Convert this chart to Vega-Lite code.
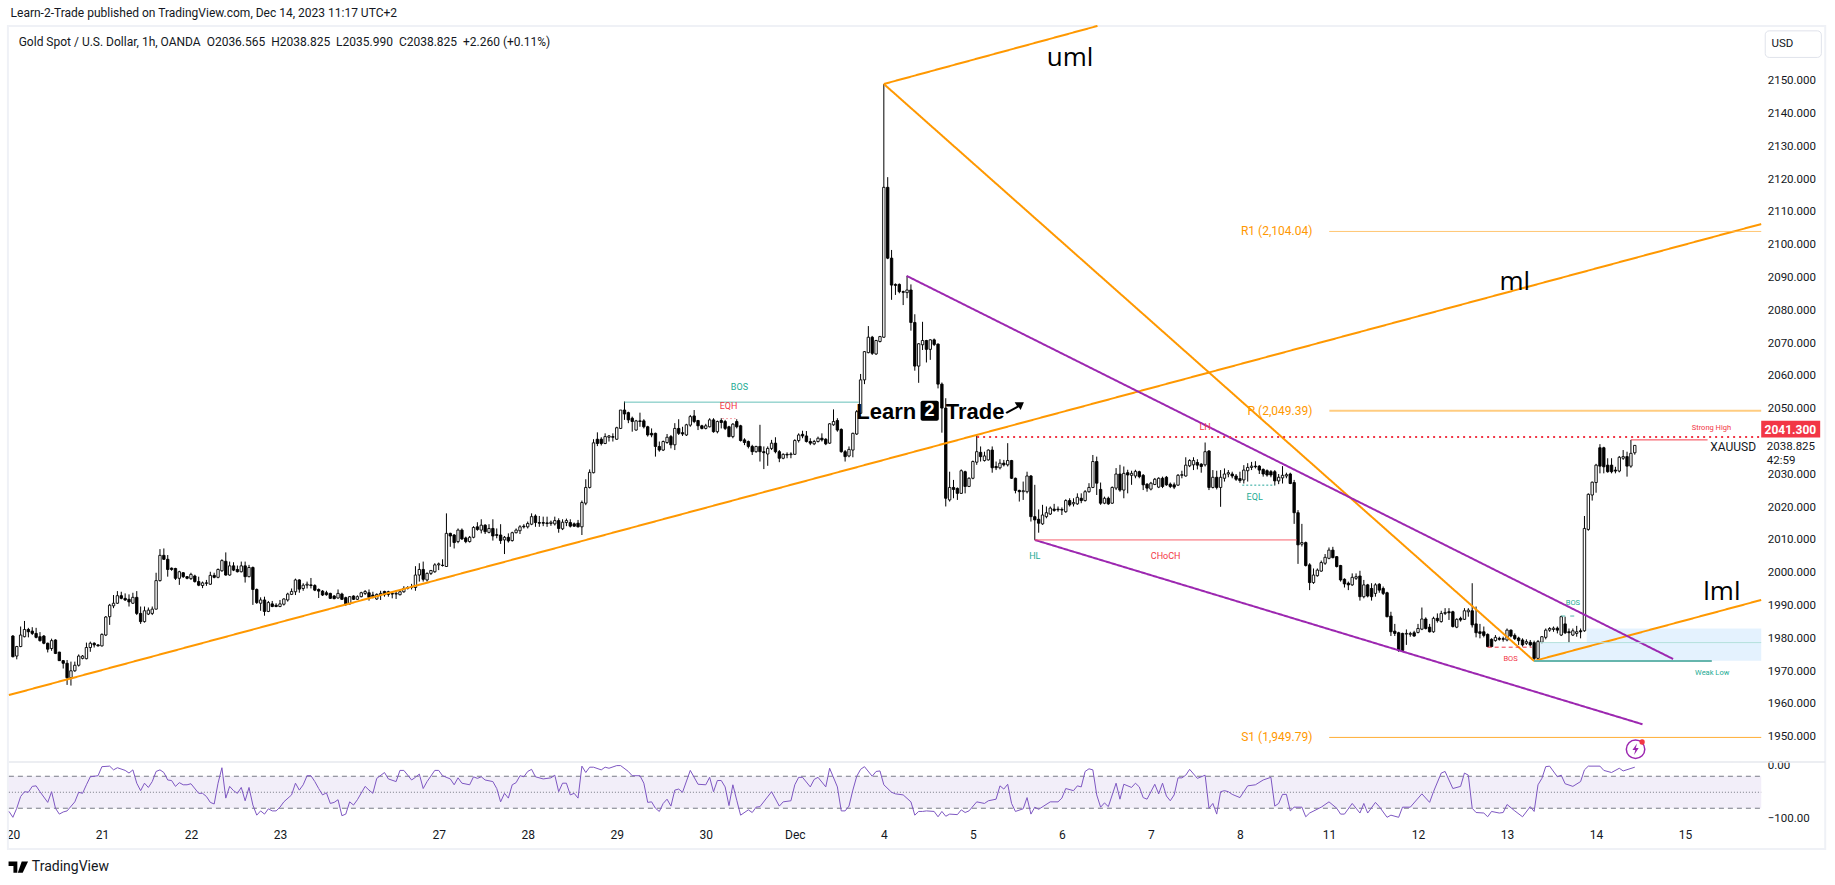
{
"$schema":"https://vega.github.io/schema/vega-lite/v6.json",
"description":"Gold spot 1h candles with pitchfork, wedge, pivots and a Williams %R pane.",
"width":1762.3,"height":799,
"autosize":{"type":"none"},
"padding":{"left":3.9,"top":26,"right":68.8,"bottom":60},
"background":"#ffffff",
"config":{"view":{"stroke":null},"font":"Roboto"},
"datasets":{
"candles":[
{"i":0,"o":1980.7,"h":1981,"l":1974.2,"c":1974.4},{"i":1,"o":1974.6,"h":1977.7,"l":1973.6,"c":1977.5},{"i":2,"o":1977.5,"h":1983.6,"l":1977.3,"c":1981},{"i":3,"o":1980.5,"h":1985.3,"l":1980.3,"c":1982.7},{"i":4,"o":1982.7,"h":1983.2,"l":1980.3,"c":1982},{"i":5,"o":1982.2,"h":1983.4,"l":1981,"c":1981.5},{"i":6,"o":1981.5,"h":1983.2,"l":1980,"c":1980.3},{"i":7,"o":1980.5,"h":1981.9,"l":1979,"c":1979.3},{"i":8,"o":1980.7,"h":1981,"l":1978.2,"c":1978.5},{"i":9,"o":1978.5,"h":1978.7,"l":1975.7,"c":1976.7},
{"i":10,"o":1976.9,"h":1979.9,"l":1976.2,"c":1979.3},{"i":11,"o":1979.5,"h":1979.7,"l":1975.2,"c":1975.4},{"i":12,"o":1975.8,"h":1975.9,"l":1973.1,"c":1973.2},{"i":13,"o":1973.2,"h":1973.4,"l":1970.8,"c":1972.4},{"i":14,"o":1972.4,"h":1973.4,"l":1965.8,"c":1968},{"i":15,"o":1968,"h":1972.9,"l":1965.6,"c":1970.1},{"i":16,"o":1970.1,"h":1972.9,"l":1969.8,"c":1971.8},{"i":17,"o":1971.8,"h":1975.1,"l":1971.4,"c":1974.6},{"i":18,"o":1973.9,"h":1974.9,"l":1973.6,"c":1974.6},{"i":19,"o":1973.8,"h":1978.7,"l":1973.6,"c":1977.2},
{"i":20,"o":1977.2,"h":1979,"l":1975.9,"c":1978.5},{"i":21,"o":1978.5,"h":1978.8,"l":1977.2,"c":1978},{"i":22,"o":1978,"h":1978.2,"l":1977.5,"c":1977.7},{"i":23,"o":1977.7,"h":1981.5,"l":1977.5,"c":1981.2},{"i":24,"o":1981,"h":1986.8,"l":1980.7,"c":1986.5},{"i":25,"o":1986.6,"h":1990.5,"l":1984.1,"c":1990.1},{"i":26,"o":1989.9,"h":1993.2,"l":1989.2,"c":1990.7},{"i":27,"o":1990.7,"h":1994.4,"l":1990.5,"c":1993},{"i":28,"o":1993,"h":1994.2,"l":1991.9,"c":1992.2},{"i":29,"o":1992.2,"h":1993.7,"l":1991.4,"c":1991.7},
{"i":30,"o":1991.9,"h":1993.4,"l":1989.7,"c":1991.1},{"i":31,"o":1990.7,"h":1993.9,"l":1990.5,"c":1992.5},{"i":32,"o":1992.5,"h":1994.4,"l":1987.1,"c":1987.6},{"i":33,"o":1987.6,"h":1989.7,"l":1984.4,"c":1985.1},{"i":34,"o":1985.1,"h":1989.7,"l":1984.8,"c":1988.4},{"i":35,"o":1987.4,"h":1989.4,"l":1987.1,"c":1988.6},{"i":36,"o":1987.6,"h":1989.7,"l":1987.1,"c":1988.9},{"i":37,"o":1988.9,"h":2000,"l":1988.8,"c":1997.6},{"i":38,"o":1997.6,"h":2007.2,"l":1997.3,"c":2005.3},{"i":39,"o":2005.3,"h":2007.4,"l":2003.9,"c":2004.1},
{"i":40,"o":2004.1,"h":2005.4,"l":1998.8,"c":2001},{"i":41,"o":2001.4,"h":2001.6,"l":2000.6,"c":2001},{"i":42,"o":2001.3,"h":2001.5,"l":1997.8,"c":1998.3},{"i":43,"o":1998.3,"h":2000.6,"l":1996.3,"c":2000.3},{"i":44,"o":2000,"h":2000.2,"l":1998.4,"c":1998.8},{"i":45,"o":1998.8,"h":1999,"l":1998,"c":1998.3},{"i":46,"o":1998.2,"h":2000,"l":1997.8,"c":1999.5},{"i":47,"o":1999,"h":1999.4,"l":1997,"c":1997.3},{"i":48,"o":1997.3,"h":1998.8,"l":1995.9,"c":1996.2},{"i":49,"o":1996.1,"h":1997.3,"l":1995.3,"c":1996.9},
{"i":50,"o":1996.9,"h":1997.8,"l":1996,"c":1996.8},{"i":51,"o":1996.5,"h":2000.3,"l":1996.3,"c":1999.2},{"i":52,"o":1999.2,"h":2000,"l":1998.3,"c":1998.6},{"i":53,"o":1998.6,"h":2001.3,"l":1998.3,"c":2001},{"i":54,"o":2000.6,"h":2004.1,"l":2000.3,"c":2003.7},{"i":55,"o":2003.5,"h":2006.2,"l":1999.1,"c":1999.3},{"i":56,"o":1999.3,"h":2003.4,"l":1999.1,"c":2002.1},{"i":57,"o":2002.1,"h":2003.2,"l":2000.5,"c":2000.8},{"i":58,"o":2001,"h":2002.2,"l":2000.1,"c":2000.3},{"i":59,"o":2000.3,"h":2003.4,"l":2000.1,"c":2002.1},
{"i":60,"o":2002.1,"h":2003.4,"l":1997,"c":1998.8},{"i":61,"o":1998.8,"h":2002.4,"l":1998.6,"c":2001.6},{"i":62,"o":2001.6,"h":2001.9,"l":1990.2,"c":1994.9},{"i":63,"o":1994.9,"h":1995.2,"l":1990.5,"c":1990.9},{"i":64,"o":1990.7,"h":1992.5,"l":1988.4,"c":1991.7},{"i":65,"o":1991.7,"h":1992.7,"l":1986.9,"c":1988.2},{"i":66,"o":1988.2,"h":1991.4,"l":1988,"c":1990.9},{"i":67,"o":1990.5,"h":1991.4,"l":1989.5,"c":1989.7},{"i":68,"o":1990.1,"h":1990.7,"l":1989.5,"c":1989.7},{"i":69,"o":1989.7,"h":1991.7,"l":1989.5,"c":1990.5},
{"i":70,"o":1990.4,"h":1992.2,"l":1990,"c":1992},{"i":71,"o":1991.7,"h":1993.9,"l":1991.2,"c":1993.5},{"i":72,"o":1993.4,"h":1995.2,"l":1993.2,"c":1994.3},{"i":73,"o":1994.2,"h":1998.2,"l":1993.2,"c":1997.8},{"i":74,"o":1997.8,"h":1998,"l":1993.9,"c":1995},{"i":75,"o":1995.2,"h":1996.8,"l":1994.5,"c":1996.2},{"i":76,"o":1996.2,"h":1997.3,"l":1995.2,"c":1996.5},{"i":77,"o":1996.3,"h":1998.4,"l":1995.2,"c":1996.1},{"i":78,"o":1996.1,"h":1996.5,"l":1994.4,"c":1994.7},{"i":79,"o":1994.9,"h":1995.2,"l":1992.3,"c":1994.4},
{"i":80,"o":1994.4,"h":1994.7,"l":1992.9,"c":1993.2},{"i":81,"o":1993.9,"h":1994.5,"l":1993,"c":1993.3},{"i":82,"o":1993.7,"h":1993.9,"l":1992,"c":1992.2},{"i":83,"o":1992.9,"h":1993.2,"l":1991.9,"c":1992.1},{"i":84,"o":1992.3,"h":1994.9,"l":1992.1,"c":1993.7},{"i":85,"o":1993.5,"h":1993.9,"l":1991.7,"c":1991.9},{"i":86,"o":1992.4,"h":1992.7,"l":1989.9,"c":1990.5},{"i":87,"o":1990.5,"h":1992.9,"l":1990.3,"c":1992.7},{"i":88,"o":1992.9,"h":1993.1,"l":1991.7,"c":1991.9},{"i":89,"o":1991.9,"h":1993.1,"l":1991.7,"c":1992.7},
{"i":90,"o":1992.7,"h":1994.2,"l":1992.5,"c":1993.9},{"i":91,"o":1993.7,"h":1994.7,"l":1993.2,"c":1994.3},{"i":92,"o":1993.9,"h":1994.9,"l":1991.5,"c":1992.5},{"i":93,"o":1993.2,"h":1994.2,"l":1992.2,"c":1992.7},{"i":94,"o":1992,"h":1993.7,"l":1991.7,"c":1993.4},{"i":95,"o":1993.2,"h":1994.5,"l":1991.7,"c":1993.7},{"i":96,"o":1994.3,"h":1994.5,"l":1992.7,"c":1993.3},{"i":97,"o":1994.2,"h":1994.5,"l":1992.7,"c":1993.4},{"i":98,"o":1993.7,"h":1994.2,"l":1992.2,"c":1993.5},{"i":99,"o":1993.5,"h":1994.7,"l":1992,"c":1993.7},
{"i":100,"o":1993.3,"h":1994.5,"l":1993.1,"c":1994.2},{"i":101,"o":1994.2,"h":1995.9,"l":1993.9,"c":1995.2},{"i":102,"o":1995.5,"h":1995.9,"l":1994.9,"c":1995.3},{"i":103,"o":1995.5,"h":1996.6,"l":1994.9,"c":1995.7},{"i":104,"o":1995.5,"h":2002,"l":1994.5,"c":1999.3},{"i":105,"o":1999.3,"h":2002.9,"l":1997.3,"c":2001},{"i":106,"o":2001,"h":2003.4,"l":1997.3,"c":1998},{"i":107,"o":1997.8,"h":2000.1,"l":1997.3,"c":1999.8},{"i":108,"o":1999.8,"h":2000.8,"l":1999.3,"c":2000.7},{"i":109,"o":2000.3,"h":2002.9,"l":2000,"c":2002.4},
{"i":110,"o":2002.4,"h":2003.1,"l":2000.8,"c":2002.7},{"i":111,"o":2002.3,"h":2004.1,"l":2001.9,"c":2002.2},{"i":112,"o":2001.9,"h":2018.1,"l":2001.8,"c":2012},{"i":113,"o":2012,"h":2012.2,"l":2007.9,"c":2011.2},{"i":114,"o":2011.5,"h":2011.8,"l":2007.4,"c":2009.2},{"i":115,"o":2009.5,"h":2013.5,"l":2009,"c":2013},{"i":116,"o":2013,"h":2013.5,"l":2010,"c":2010.3},{"i":117,"o":2010.6,"h":2011,"l":2009,"c":2009.5},{"i":118,"o":2009.5,"h":2011.2,"l":2009.2,"c":2010.8},{"i":119,"o":2010.8,"h":2014.2,"l":2010.5,"c":2013.8},
{"i":120,"o":2014,"h":2015.4,"l":2012.8,"c":2013.2},{"i":121,"o":2013,"h":2016.3,"l":2012,"c":2014.5},{"i":122,"o":2014.5,"h":2014.8,"l":2011.8,"c":2012.5},{"i":123,"o":2012.3,"h":2014.8,"l":2012,"c":2013.5},{"i":124,"o":2013.5,"h":2016.3,"l":2009.8,"c":2011.2},{"i":125,"o":2011.6,"h":2013.5,"l":2010.5,"c":2011.4},{"i":126,"o":2011.5,"h":2014.8,"l":2008.8,"c":2009.8},{"i":127,"o":2010,"h":2011.2,"l":2005.7,"c":2010.8},{"i":128,"o":2010.8,"h":2012,"l":2009.2,"c":2009.7},{"i":129,"o":2009.8,"h":2012.5,"l":2009.5,"c":2012.2},
{"i":130,"o":2012.2,"h":2013.5,"l":2012,"c":2013},{"i":131,"o":2012.8,"h":2014.5,"l":2011.8,"c":2014},{"i":132,"o":2014.2,"h":2014.8,"l":2013.5,"c":2014},{"i":133,"o":2014,"h":2015.6,"l":2013.5,"c":2015},{"i":134,"o":2014.8,"h":2018.1,"l":2014.5,"c":2017.1},{"i":135,"o":2017.3,"h":2017.8,"l":2014,"c":2015.3},{"i":136,"o":2015.3,"h":2017.3,"l":2014,"c":2015.1},{"i":137,"o":2015.3,"h":2017.1,"l":2014.2,"c":2015.1},{"i":138,"o":2015.2,"h":2017.1,"l":2014,"c":2015},{"i":139,"o":2015,"h":2015.9,"l":2014.3,"c":2015.4},
{"i":140,"o":2014.9,"h":2017.1,"l":2014.4,"c":2015.9},{"i":141,"o":2015.9,"h":2016.6,"l":2012.2,"c":2013.5},{"i":142,"o":2013.4,"h":2016.3,"l":2013,"c":2015.4},{"i":143,"o":2015.3,"h":2016.5,"l":2014.2,"c":2015.9},{"i":144,"o":2015.3,"h":2016.3,"l":2013.8,"c":2014.2},{"i":145,"o":2014.9,"h":2015.3,"l":2014,"c":2014.2},{"i":146,"o":2015.1,"h":2016.1,"l":2013.8,"c":2014},{"i":147,"o":2014,"h":2022,"l":2011.5,"c":2021.4},{"i":148,"o":2021.2,"h":2028.5,"l":2020.6,"c":2026},{"i":149,"o":2026,"h":2031.5,"l":2025.7,"c":2030.6},
{"i":150,"o":2030.5,"h":2040.7,"l":2030.3,"c":2039.6},{"i":151,"o":2040.7,"h":2042.8,"l":2038.6,"c":2039.4},{"i":152,"o":2040.7,"h":2041.3,"l":2038.8,"c":2039.4},{"i":153,"o":2039.4,"h":2042.5,"l":2039.2,"c":2041.5},{"i":154,"o":2041.3,"h":2042,"l":2040,"c":2041.7},{"i":155,"o":2041.5,"h":2042.5,"l":2040,"c":2041.3},{"i":156,"o":2040.7,"h":2044.5,"l":2040.5,"c":2044.2},{"i":157,"o":2044,"h":2049.6,"l":2043.8,"c":2049.6},{"i":158,"o":2049.6,"h":2052.2,"l":2046.6,"c":2048.4},{"i":159,"o":2048.8,"h":2049.1,"l":2045.6,"c":2046.6},
{"i":160,"o":2047.1,"h":2047.6,"l":2043,"c":2046.1},{"i":161,"o":2043.5,"h":2046.6,"l":2043.3,"c":2046.3},{"i":162,"o":2046.3,"h":2048.8,"l":2044.5,"c":2046.1},{"i":163,"o":2046.3,"h":2046.8,"l":2044,"c":2044.5},{"i":164,"o":2044.5,"h":2044.8,"l":2041.5,"c":2042},{"i":165,"o":2042.5,"h":2044,"l":2041.3,"c":2042},{"i":166,"o":2042.5,"h":2042.7,"l":2035.4,"c":2038.5},{"i":167,"o":2038.5,"h":2040,"l":2036.9,"c":2037.4},{"i":168,"o":2037.4,"h":2040.3,"l":2037.1,"c":2040},{"i":169,"o":2039.7,"h":2042.3,"l":2039.3,"c":2041.3},
{"i":170,"o":2041.5,"h":2042,"l":2037.9,"c":2039},{"i":171,"o":2039,"h":2045.6,"l":2037.4,"c":2044},{"i":172,"o":2044,"h":2046.8,"l":2042,"c":2042.5},{"i":173,"o":2042.7,"h":2044.5,"l":2041.7,"c":2042.3},{"i":174,"o":2042,"h":2045.4,"l":2041.7,"c":2045.1},{"i":175,"o":2045,"h":2048.1,"l":2044.5,"c":2047.6},{"i":176,"o":2047.8,"h":2049.6,"l":2045.6,"c":2046.1},{"i":177,"o":2046.4,"h":2046.6,"l":2043.5,"c":2044.8},{"i":178,"o":2044.8,"h":2045.1,"l":2043.7,"c":2044},{"i":179,"o":2044,"h":2045.4,"l":2043.7,"c":2044.8},
{"i":180,"o":2044.5,"h":2047.1,"l":2044.3,"c":2046.6},{"i":181,"o":2046.6,"h":2047.1,"l":2042.7,"c":2043},{"i":182,"o":2043,"h":2046.4,"l":2042.5,"c":2046.1},{"i":183,"o":2046.4,"h":2047.1,"l":2044,"c":2045.8},{"i":184,"o":2046.1,"h":2046.6,"l":2043.5,"c":2044},{"i":185,"o":2044.5,"h":2044.8,"l":2041.3,"c":2041.5},{"i":186,"o":2041.5,"h":2045.6,"l":2041,"c":2045.3},{"i":187,"o":2046.1,"h":2046.8,"l":2044,"c":2044.5},{"i":188,"o":2044.8,"h":2045.1,"l":2040,"c":2040.3},{"i":189,"o":2040.5,"h":2041,"l":2038.9,"c":2039.7},
{"i":190,"o":2040,"h":2040.3,"l":2037.9,"c":2038.5},{"i":191,"o":2038.5,"h":2039,"l":2035.9,"c":2036.9},{"i":192,"o":2036.9,"h":2038.7,"l":2036.6,"c":2038.5},{"i":193,"o":2038.5,"h":2045.1,"l":2033.9,"c":2036.9},{"i":194,"o":2036.9,"h":2038.5,"l":2031.6,"c":2036.6},{"i":195,"o":2036.2,"h":2038.5,"l":2032.6,"c":2037.9},{"i":196,"o":2037.9,"h":2040.5,"l":2037.4,"c":2039.5},{"i":197,"o":2039.5,"h":2041.3,"l":2036.4,"c":2036.9},{"i":198,"o":2036.9,"h":2037.4,"l":2033.7,"c":2034.9},{"i":199,"o":2034.9,"h":2036.4,"l":2034.6,"c":2036.1},
{"i":200,"o":2036.1,"h":2036.7,"l":2034.9,"c":2035.9},{"i":201,"o":2036,"h":2036.7,"l":2034.9,"c":2036.2},{"i":202,"o":2036.1,"h":2040.7,"l":2035.9,"c":2040.3},{"i":203,"o":2040.3,"h":2042.5,"l":2039.7,"c":2042},{"i":204,"o":2042.2,"h":2043.3,"l":2041,"c":2041.7},{"i":205,"o":2041.7,"h":2043.2,"l":2039.7,"c":2040},{"i":206,"o":2040,"h":2041,"l":2038.9,"c":2039.5},{"i":207,"o":2039.3,"h":2040.5,"l":2038.9,"c":2040},{"i":208,"o":2040,"h":2041.5,"l":2039.7,"c":2041},{"i":209,"o":2041,"h":2042.5,"l":2040,"c":2040.5},
{"i":210,"o":2040.7,"h":2041,"l":2038.9,"c":2039.3},{"i":211,"o":2039.5,"h":2045.6,"l":2039.3,"c":2045.4},{"i":212,"o":2045.1,"h":2049.8,"l":2044.8,"c":2046.1},{"i":213,"o":2046.4,"h":2047.1,"l":2043,"c":2043.5},{"i":214,"o":2043.7,"h":2044,"l":2036.6,"c":2036.9},{"i":215,"o":2036.9,"h":2037.4,"l":2033.9,"c":2035.4},{"i":216,"o":2035.6,"h":2038.5,"l":2035.2,"c":2037.6},{"i":217,"o":2037.4,"h":2042.7,"l":2035.2,"c":2042.5},{"i":218,"o":2042.3,"h":2049.6,"l":2042,"c":2049.1},{"i":219,"o":2048.6,"h":2060.6,"l":2048.4,"c":2058.8},
{"i":220,"o":2058.8,"h":2067.6,"l":2057.5,"c":2067.4},{"i":221,"o":2067.1,"h":2075.2,"l":2066.9,"c":2071.8},{"i":222,"o":2071.8,"h":2072.2,"l":2066.4,"c":2066.9},{"i":223,"o":2066.7,"h":2071,"l":2066.4,"c":2070.8},{"i":224,"o":2070.5,"h":2072.2,"l":2070.2,"c":2072},{"i":225,"o":2071.8,"h":2149,"l":2071.6,"c":2117.5},{"i":226,"o":2117.5,"h":2120.6,"l":2095.6,"c":2095.9},{"i":227,"o":2095.9,"h":2098.4,"l":2083.2,"c":2087.7},{"i":228,"o":2087.9,"h":2088.2,"l":2084.7,"c":2087.6},{"i":229,"o":2087.9,"h":2088.2,"l":2085.2,"c":2085.7},
{"i":230,"o":2085.7,"h":2086,"l":2081.6,"c":2085.5},{"i":231,"o":2085.4,"h":2090.5,"l":2083.7,"c":2086.2},{"i":232,"o":2086.2,"h":2087.9,"l":2073.8,"c":2076.3},{"i":233,"o":2076.3,"h":2078.8,"l":2061.6,"c":2063},{"i":234,"o":2063,"h":2070,"l":2057.9,"c":2069.8},{"i":235,"o":2069.5,"h":2076.5,"l":2067.9,"c":2070.8},{"i":236,"o":2070.8,"h":2071,"l":2064.1,"c":2068.1},{"i":237,"o":2068.1,"h":2071.2,"l":2064.9,"c":2071},{"i":238,"o":2071,"h":2071.4,"l":2069.1,"c":2069.6},{"i":239,"o":2069.7,"h":2069.9,"l":2056.2,"c":2057.5},
{"i":240,"o":2057.5,"h":2058,"l":2042.7,"c":2050.2},{"i":241,"o":2050.2,"h":2053.2,"l":2020.2,"c":2022.7},{"i":242,"o":2022.2,"h":2030.8,"l":2021.7,"c":2026},{"i":243,"o":2026,"h":2028.3,"l":2022.7,"c":2025.4},{"i":244,"o":2025.7,"h":2026,"l":2022.2,"c":2024.2},{"i":245,"o":2024.2,"h":2031.5,"l":2024,"c":2031.1},{"i":246,"o":2030.8,"h":2031.1,"l":2024.2,"c":2026.3},{"i":247,"o":2026.3,"h":2029.1,"l":2026.1,"c":2028.8},{"i":248,"o":2028.8,"h":2034.2,"l":2028.5,"c":2033.9},{"i":249,"o":2033.7,"h":2042,"l":2032.9,"c":2036.9},
{"i":250,"o":2036.7,"h":2038.5,"l":2033.9,"c":2035.4},{"i":251,"o":2034.2,"h":2036.9,"l":2033.9,"c":2035.6},{"i":252,"o":2034.4,"h":2037.6,"l":2034.2,"c":2037.4},{"i":253,"o":2037.4,"h":2038.5,"l":2030.5,"c":2032},{"i":254,"o":2032.4,"h":2033.9,"l":2031.3,"c":2032},{"i":255,"o":2032,"h":2034.6,"l":2031.5,"c":2033.4},{"i":256,"o":2033.4,"h":2034.4,"l":2032.4,"c":2032.9},{"i":257,"o":2032.9,"h":2039.5,"l":2032.4,"c":2034.2},{"i":258,"o":2034.2,"h":2034.4,"l":2028.6,"c":2028.8},{"i":259,"o":2028.8,"h":2029,"l":2024.2,"c":2025.1},
{"i":260,"o":2025.1,"h":2025.3,"l":2021.7,"c":2024.7},{"i":261,"o":2024.7,"h":2027.8,"l":2022.2,"c":2025},{"i":262,"o":2024.7,"h":2030.8,"l":2024.2,"c":2029.5},{"i":263,"o":2029.5,"h":2029.8,"l":2015.6,"c":2017.1},{"i":264,"o":2017.1,"h":2026.8,"l":2010,"c":2016.1},{"i":265,"o":2016.3,"h":2019.3,"l":2012.2,"c":2015.1},{"i":266,"o":2014.9,"h":2020.7,"l":2014.6,"c":2017.6},{"i":267,"o":2017.1,"h":2020.2,"l":2016.6,"c":2018.3},{"i":268,"o":2017.9,"h":2020.2,"l":2017.6,"c":2019.7},{"i":269,"o":2019.4,"h":2021,"l":2018.6,"c":2019},
{"i":270,"o":2019.4,"h":2020.2,"l":2018.6,"c":2019.2},{"i":271,"o":2019.3,"h":2019.9,"l":2017.6,"c":2019.1},{"i":272,"o":2018.6,"h":2022.4,"l":2018.3,"c":2022},{"i":273,"o":2022,"h":2022.7,"l":2020.2,"c":2020.7},{"i":274,"o":2021,"h":2022.7,"l":2020.2,"c":2021.4},{"i":275,"o":2021,"h":2024.2,"l":2020.7,"c":2023},{"i":276,"o":2022.7,"h":2024.2,"l":2021.2,"c":2022},{"i":277,"o":2022,"h":2025.2,"l":2021.7,"c":2024.7},{"i":278,"o":2024.7,"h":2027.3,"l":2024.4,"c":2026},{"i":279,"o":2026,"h":2035.9,"l":2025.8,"c":2033.9},
{"i":280,"o":2033.9,"h":2035.4,"l":2023.7,"c":2027.3},{"i":281,"o":2025.4,"h":2027.5,"l":2020.7,"c":2021.2},{"i":282,"o":2021.2,"h":2023.2,"l":2020.9,"c":2022.7},{"i":283,"o":2022.7,"h":2023.2,"l":2020.7,"c":2021},{"i":284,"o":2021.2,"h":2026.3,"l":2021,"c":2026},{"i":285,"o":2025.8,"h":2031.9,"l":2025.2,"c":2030.1},{"i":286,"o":2030.1,"h":2032.9,"l":2024.7,"c":2025.2},{"i":287,"o":2025.2,"h":2032.4,"l":2022.7,"c":2030.3},{"i":288,"o":2030.5,"h":2031.4,"l":2024.2,"c":2029.8},{"i":289,"o":2029.7,"h":2031.1,"l":2026.8,"c":2030.3},
{"i":290,"o":2029.5,"h":2031.4,"l":2028.8,"c":2030.9},{"i":291,"o":2030.8,"h":2031.1,"l":2028.8,"c":2029.3},{"i":292,"o":2029.7,"h":2030.1,"l":2025.2,"c":2026.8},{"i":293,"o":2027,"h":2027.3,"l":2024.7,"c":2025.8},{"i":294,"o":2025.5,"h":2027.7,"l":2025.1,"c":2027.3},{"i":295,"o":2026.9,"h":2028.9,"l":2026.7,"c":2028.5},{"i":296,"o":2026.1,"h":2029.1,"l":2025.8,"c":2028.8},{"i":297,"o":2028.8,"h":2029.3,"l":2025.8,"c":2026.3},{"i":298,"o":2029.1,"h":2029.5,"l":2026.5,"c":2026.8},{"i":299,"o":2027,"h":2027.5,"l":2025.8,"c":2026.3},
{"i":300,"o":2026.8,"h":2027.5,"l":2025.5,"c":2026.1},{"i":301,"o":2026.7,"h":2030.1,"l":2026.5,"c":2029.7},{"i":302,"o":2029.7,"h":2031.1,"l":2028.8,"c":2029.9},{"i":303,"o":2029.5,"h":2035.2,"l":2029.3,"c":2032.8},{"i":304,"o":2032.6,"h":2034.6,"l":2032.2,"c":2034.2},{"i":305,"o":2032.9,"h":2035.2,"l":2031.3,"c":2034.2},{"i":306,"o":2033.6,"h":2034.6,"l":2031.5,"c":2032.8},{"i":307,"o":2033.1,"h":2033.4,"l":2030.5,"c":2032.4},{"i":308,"o":2032.9,"h":2039.7,"l":2032.4,"c":2036.9},{"i":309,"o":2037.1,"h":2037.4,"l":2025.2,"c":2026},
{"i":310,"o":2026,"h":2031.3,"l":2025.7,"c":2029.1},{"i":311,"o":2029.1,"h":2031.1,"l":2025.4,"c":2026},{"i":312,"o":2026,"h":2031.3,"l":2020.1,"c":2029.1},{"i":313,"o":2028.8,"h":2031.8,"l":2027.8,"c":2030.1},{"i":314,"o":2030.1,"h":2031.3,"l":2029.1,"c":2030.5},{"i":315,"o":2030.1,"h":2030.8,"l":2028.8,"c":2029.5},{"i":316,"o":2029.5,"h":2030.1,"l":2028,"c":2028.5},{"i":317,"o":2028.7,"h":2030.8,"l":2027.4,"c":2028.1},{"i":318,"o":2028.3,"h":2032.8,"l":2027.2,"c":2031.3},{"i":319,"o":2031.1,"h":2033.4,"l":2027.8,"c":2032.1},
{"i":320,"o":2032.1,"h":2033.8,"l":2031.3,"c":2032.5},{"i":321,"o":2032.5,"h":2034,"l":2031.8,"c":2032.3},{"i":322,"o":2032.5,"h":2032.8,"l":2030.1,"c":2031.3},{"i":323,"o":2031.5,"h":2031.8,"l":2029.3,"c":2030.1},{"i":324,"o":2031.1,"h":2031.5,"l":2029.3,"c":2029.8},{"i":325,"o":2030.8,"h":2031.3,"l":2029.1,"c":2029.8},{"i":326,"o":2030.8,"h":2031.3,"l":2026.6,"c":2028},{"i":327,"o":2028,"h":2030.1,"l":2027,"c":2029.1},{"i":328,"o":2028.9,"h":2032.5,"l":2027.2,"c":2029.7},{"i":329,"o":2029.5,"h":2030.5,"l":2028.8,"c":2029.9},
{"i":330,"o":2030.1,"h":2030.5,"l":2027,"c":2027.2},{"i":331,"o":2027.5,"h":2028.3,"l":2014.9,"c":2018.3},{"i":332,"o":2018.3,"h":2019.1,"l":2002.7,"c":2008.5},{"i":333,"o":2008.7,"h":2014.9,"l":2008,"c":2009.2},{"i":334,"o":2009.2,"h":2009.5,"l":2001.9,"c":2002.2},{"i":335,"o":2002.4,"h":2002.9,"l":1994.7,"c":1997},{"i":336,"o":1997,"h":2001.3,"l":1996.6,"c":1999.3},{"i":337,"o":1999.1,"h":2001.3,"l":1998.8,"c":2000.8},{"i":338,"o":2000.5,"h":2003.7,"l":2000.3,"c":2003.1},{"i":339,"o":2002.9,"h":2005.7,"l":2002.4,"c":2004.7},
{"i":340,"o":2004.4,"h":2007.7,"l":2004.1,"c":2006.9},{"i":341,"o":2006.9,"h":2007.9,"l":2004.4,"c":2004.6},{"i":342,"o":2004.9,"h":2005.1,"l":2001.6,"c":2001.9},{"i":343,"o":2002.2,"h":2002.4,"l":1997.3,"c":1997.8},{"i":344,"o":1998,"h":1998.3,"l":1995.5,"c":1996.6},{"i":345,"o":1996.8,"h":1997.3,"l":1994.7,"c":1996.3},{"i":346,"o":1996.3,"h":1999.8,"l":1996,"c":1998.6},{"i":347,"o":1998.3,"h":1999.8,"l":1997.8,"c":1998.8},{"i":348,"o":1999,"h":2000.6,"l":1991.5,"c":1992.7},{"i":349,"o":1992.7,"h":1997.8,"l":1992.2,"c":1996.3},
{"i":350,"o":1996.3,"h":1996.6,"l":1992.5,"c":1992.9},{"i":351,"o":1995.2,"h":1996.8,"l":1991.5,"c":1992.7},{"i":352,"o":1993.7,"h":1996.8,"l":1992.7,"c":1996.3},{"i":353,"o":1996.5,"h":1996.8,"l":1993.9,"c":1994.7},{"i":354,"o":1995.2,"h":1995.8,"l":1993.2,"c":1993.7},{"i":355,"o":1993.9,"h":1994.2,"l":1986.4,"c":1986.6},{"i":356,"o":1986.8,"h":1988.1,"l":1980.7,"c":1982},{"i":357,"o":1982.2,"h":1984.4,"l":1980.7,"c":1981.5},{"i":358,"o":1981.7,"h":1982,"l":1975.9,"c":1976.5},{"i":359,"o":1981.5,"h":1981.7,"l":1975.9,"c":1976.3},
{"i":360,"o":1981.3,"h":1982.7,"l":1978,"c":1981.5},{"i":361,"o":1981.2,"h":1982,"l":1980.5,"c":1981.5},{"i":362,"o":1981.7,"h":1982.3,"l":1980.5,"c":1980.7},{"i":363,"o":1981.8,"h":1984.4,"l":1981.5,"c":1983},{"i":364,"o":1982.8,"h":1989.4,"l":1982.5,"c":1985.9},{"i":365,"o":1985.9,"h":1986.4,"l":1982.7,"c":1983},{"i":366,"o":1983.4,"h":1984.4,"l":1981.8,"c":1982},{"i":367,"o":1982,"h":1986.6,"l":1981.7,"c":1986.1},{"i":368,"o":1986.1,"h":1987.6,"l":1984.8,"c":1985.4},{"i":369,"o":1985.1,"h":1988.4,"l":1984.8,"c":1987.6},
{"i":370,"o":1987.6,"h":1989.2,"l":1987.1,"c":1987.9},{"i":371,"o":1988.1,"h":1989.2,"l":1985.6,"c":1987.8},{"i":372,"o":1988.1,"h":1988.4,"l":1983.3,"c":1983.6},{"i":373,"o":1983.4,"h":1986.1,"l":1983.1,"c":1985.8},{"i":374,"o":1986.1,"h":1986.6,"l":1985.1,"c":1985.6},{"i":375,"o":1985.8,"h":1989.2,"l":1985.6,"c":1988.4},{"i":376,"o":1988.1,"h":1989.2,"l":1986.6,"c":1988.6},{"i":377,"o":1988.4,"h":1996.8,"l":1983.3,"c":1984.1},{"i":378,"o":1984.4,"h":1989.7,"l":1980.3,"c":1981.7},{"i":379,"o":1982,"h":1984.4,"l":1980,"c":1981.5},
{"i":380,"o":1982,"h":1983.6,"l":1980.3,"c":1980.9},{"i":381,"o":1981.2,"h":1981.5,"l":1977.3,"c":1977.5},{"i":382,"o":1979.7,"h":1980,"l":1977.3,"c":1977.5},{"i":383,"o":1979.3,"h":1981,"l":1979,"c":1980.3},{"i":384,"o":1980,"h":1980.5,"l":1979.3,"c":1979.7},{"i":385,"o":1979.9,"h":1980.5,"l":1979,"c":1979.7},{"i":386,"o":1979.5,"h":1983,"l":1979.1,"c":1982.5},{"i":387,"o":1982.5,"h":1982.7,"l":1980.3,"c":1980.7},{"i":388,"o":1980.9,"h":1981.5,"l":1979.5,"c":1979.9},{"i":389,"o":1980.1,"h":1980.5,"l":1978,"c":1979.3},
{"i":390,"o":1979.5,"h":1980,"l":1977.5,"c":1978},{"i":391,"o":1978.5,"h":1979.7,"l":1978,"c":1979},{"i":392,"o":1978.8,"h":1979.5,"l":1977.5,"c":1978},{"i":393,"o":1978.7,"h":1979.3,"l":1973.2,"c":1973.9},{"i":394,"o":1973.9,"h":1979.5,"l":1973.4,"c":1979},{"i":395,"o":1978.8,"h":1980.7,"l":1978.5,"c":1980.5},{"i":396,"o":1980.3,"h":1983,"l":1979.7,"c":1982.5},{"i":397,"o":1982.5,"h":1983.4,"l":1982,"c":1983},{"i":398,"o":1982.7,"h":1983.6,"l":1982,"c":1983.1},{"i":399,"o":1983.1,"h":1983.6,"l":1981.5,"c":1982.5},
{"i":400,"o":1981,"h":1986.9,"l":1980.7,"c":1986.6},{"i":401,"o":1984.4,"h":1986.6,"l":1981.3,"c":1981.7},{"i":402,"o":1982,"h":1983,"l":1978.7,"c":1981.7},{"i":403,"o":1981,"h":1983,"l":1980.7,"c":1982.3},{"i":404,"o":1981.5,"h":1983.8,"l":1980.5,"c":1982},{"i":405,"o":1982.3,"h":1983,"l":1980,"c":1982},{"i":406,"o":1982.3,"h":2017.3,"l":1982,"c":2013.5},{"i":407,"o":2013.2,"h":2024.2,"l":2012.8,"c":2023.9},{"i":408,"o":2023.7,"h":2027.8,"l":2022,"c":2027.6},{"i":409,"o":2027.5,"h":2033.2,"l":2024.4,"c":2032.8},
{"i":410,"o":2038.1,"h":2039.2,"l":2030.3,"c":2032.5},{"i":411,"o":2038.1,"h":2038.4,"l":2030.3,"c":2032.3},{"i":412,"o":2032.8,"h":2034.9,"l":2030.5,"c":2030.8},{"i":413,"o":2032.8,"h":2034.9,"l":2030.3,"c":2030.8},{"i":414,"o":2031.3,"h":2032.3,"l":2030.3,"c":2031},{"i":415,"o":2031,"h":2035.6,"l":2030.6,"c":2035.2},{"i":416,"o":2034.9,"h":2037.4,"l":2034.4,"c":2035.4},{"i":417,"o":2035.4,"h":2036.9,"l":2029.3,"c":2032.5},{"i":418,"o":2032.5,"h":2040.5,"l":2032,"c":2036.4},{"i":419,"o":2036.565,"h":2038.825,"l":2035.99,"c":2038.825}
],
"rsi":[
{"i":-1,"r":-86},{"i":0,"r":-97},{"i":1,"r":-80},{"i":2,"r":-58},{"i":3,"r":-49},{"i":4,"r":-50},{"i":5,"r":-39},{"i":6,"r":-38},{"i":7,"r":-49},{"i":9,"r":-69},{"i":10,"r":-49},{"i":11,"r":-80},{"i":12,"r":-91},{"i":13,"r":-87},{"i":14,"r":-85},{"i":16,"r":-68},{"i":17,"r":-50},{"i":18,"r":-52},{"i":19,"r":-36},{"i":20,"r":-21},{"i":22,"r":-19},{"i":23,"r":-2},{"i":25,"r":-1},{"i":26,"r":-8},{"i":27,"r":-4},{"i":29,"r":-9},{"i":30,"r":-14},{"i":31,"r":-8},{"i":32,"r":-33},{"i":33,"r":-47},{"i":34,"r":-33},{"i":35,"r":-41},{"i":36,"r":-30},{"i":37,"r":-11},{"i":38,"r":-8},{"i":39,"r":-13},{"i":40,"r":-27},{"i":41,"r":-28},{"i":42,"r":-39},{"i":43,"r":-32},{"i":44,"r":-36},{"i":45,"r":-36},{"i":46,"r":-34},{"i":48,"r":-52},{"i":49,"r":-52},{"i":50,"r":-58},{"i":51,"r":-69},{"i":52,"r":-72},{"i":53,"r":-33},{"i":54,"r":-4},{"i":55,"r":-61},{"i":56,"r":-39},{"i":57,"r":-47},{"i":58,"r":-52},{"i":59,"r":-41},{"i":60,"r":-66},{"i":61,"r":-41},{"i":62,"r":-74},{"i":63,"r":-93},{"i":64,"r":-85},{"i":65,"r":-91},{"i":66,"r":-81},{"i":67,"r":-85},{"i":68,"r":-85},{"i":69,"r":-78},{"i":70,"r":-68},{"i":72,"r":-55},{"i":73,"r":-33},{"i":74,"r":-46},{"i":75,"r":-36},{"i":76,"r":-19},{"i":77,"r":-19},{"i":78,"r":-30},{"i":79,"r":-43},{"i":80,"r":-55},{"i":81,"r":-51},{"i":82,"r":-71},{"i":83,"r":-69},{"i":84,"r":-64},{"i":85,"r":-94},{"i":86,"r":-91},{"i":87,"r":-68},{"i":88,"r":-74},{"i":89,"r":-64},{"i":91,"r":-39},{"i":92,"r":-46},{"i":93,"r":-52},{"i":94,"r":-24},{"i":96,"r":-13},{"i":97,"r":-25},{"i":99,"r":-30},{"i":100,"r":-9},{"i":101,"r":-9},{"i":103,"r":-27},{"i":104,"r":-22},{"i":105,"r":-16},{"i":106,"r":-43},{"i":107,"r":-30},{"i":109,"r":-9},{"i":110,"r":-9},{"i":111,"r":-19},{"i":113,"r":-25},{"i":114,"r":-36},{"i":115,"r":-23},{"i":116,"r":-33},{"i":118,"r":-36},{"i":119,"r":-21},{"i":120,"r":-24},{"i":121,"r":-21},{"i":122,"r":-27},{"i":124,"r":-30},{"i":125,"r":-43},{"i":126,"r":-68},{"i":127,"r":-52},{"i":128,"r":-61},{"i":129,"r":-36},{"i":130,"r":-32},{"i":131,"r":-19},{"i":132,"r":-21},{"i":133,"r":-11},{"i":134,"r":-7},{"i":135,"r":-21},{"i":137,"r":-25},{"i":139,"r":-23},{"i":140,"r":-18},{"i":141,"r":-49},{"i":142,"r":-33},{"i":143,"r":-33},{"i":144,"r":-55},{"i":145,"r":-52},{"i":146,"r":-61},{"i":147,"r":-1},{"i":148,"r":-13},{"i":149,"r":-3},{"i":150,"r":-3},{"i":152,"r":-8},{"i":153,"r":-3},{"i":154,"r":-5},{"i":156,"r":0},{"i":157,"r":0},{"i":159,"r":-11},{"i":160,"r":-19},{"i":162,"r":-19},{"i":163,"r":-33},{"i":164,"r":-69},{"i":165,"r":-68},{"i":166,"r":-80},{"i":167,"r":-86},{"i":168,"r":-71},{"i":169,"r":-63},{"i":170,"r":-76},{"i":171,"r":-46},{"i":172,"r":-44},{"i":173,"r":-50},{"i":175,"r":-9},{"i":177,"r":-35},{"i":179,"r":-36},{"i":180,"r":-22},{"i":181,"r":-49},{"i":182,"r":-28},{"i":183,"r":-28},{"i":184,"r":-40},{"i":185,"r":-75},{"i":186,"r":-36},{"i":187,"r":-65},{"i":188,"r":-93},{"i":190,"r":-83},{"i":191,"r":-88},{"i":192,"r":-78},{"i":193,"r":-77},{"i":196,"r":-49},{"i":198,"r":-76},{"i":199,"r":-68},{"i":201,"r":-66},{"i":202,"r":-36},{"i":203,"r":-22},{"i":204,"r":-22},{"i":206,"r":-40},{"i":207,"r":-26},{"i":208,"r":-22},{"i":210,"r":-40},{"i":211,"r":-5},{"i":213,"r":-40},{"i":214,"r":-85},{"i":215,"r":-85},{"i":216,"r":-76},{"i":217,"r":-46},{"i":218,"r":-20},{"i":219,"r":-7},{"i":220,"r":-2},{"i":222,"r":-20},{"i":223,"r":-11},{"i":224,"r":-10},{"i":225,"r":-36},{"i":227,"r":-50},{"i":228,"r":-53},{"i":230,"r":-55},{"i":232,"r":-68},{"i":233,"r":-93},{"i":234,"r":-86},{"i":235,"r":-86},{"i":236,"r":-85},{"i":238,"r":-86},{"i":239,"r":-96},{"i":240,"r":-86},{"i":241,"r":-95},{"i":242,"r":-91},{"i":244,"r":-92},{"i":245,"r":-83},{"i":246,"r":-88},{"i":247,"r":-85},{"i":249,"r":-68},{"i":251,"r":-71},{"i":252,"r":-66},{"i":254,"r":-63},{"i":255,"r":-38},{"i":256,"r":-44},{"i":257,"r":-35},{"i":258,"r":-71},{"i":259,"r":-86},{"i":261,"r":-81},{"i":262,"r":-60},{"i":263,"r":-91},{"i":264,"r":-78},{"i":265,"r":-82},{"i":268,"r":-68},{"i":270,"r":-68},{"i":271,"r":-61},{"i":272,"r":-43},{"i":274,"r":-47},{"i":275,"r":-38},{"i":276,"r":-40},{"i":277,"r":-11},{"i":278,"r":-6},{"i":279,"r":-8},{"i":280,"r":-55},{"i":281,"r":-78},{"i":282,"r":-70},{"i":283,"r":-77},{"i":285,"r":-33},{"i":286,"r":-63},{"i":287,"r":-35},{"i":289,"r":-41},{"i":290,"r":-33},{"i":291,"r":-40},{"i":292,"r":-60},{"i":293,"r":-63},{"i":295,"r":-35},{"i":296,"r":-53},{"i":297,"r":-33},{"i":298,"r":-57},{"i":299,"r":-66},{"i":300,"r":-55},{"i":301,"r":-23},{"i":302,"r":-23},{"i":303,"r":-18},{"i":304,"r":-7},{"i":306,"r":-24},{"i":308,"r":-18},{"i":309,"r":-80},{"i":310,"r":-71},{"i":311,"r":-91},{"i":312,"r":-49},{"i":313,"r":-47},{"i":314,"r":-49},{"i":315,"r":-54},{"i":317,"r":-60},{"i":319,"r":-38},{"i":321,"r":-36},{"i":323,"r":-27},{"i":325,"r":-22},{"i":326,"r":-76},{"i":327,"r":-71},{"i":328,"r":-54},{"i":329,"r":-54},{"i":330,"r":-85},{"i":331,"r":-78},{"i":333,"r":-78},{"i":334,"r":-96},{"i":335,"r":-89},{"i":338,"r":-78},{"i":340,"r":-68},{"i":342,"r":-80},{"i":343,"r":-91},{"i":344,"r":-91},{"i":346,"r":-71},{"i":348,"r":-89},{"i":349,"r":-71},{"i":350,"r":-89},{"i":352,"r":-69},{"i":353,"r":-77},{"i":355,"r":-97},{"i":356,"r":-93},{"i":358,"r":-97},{"i":359,"r":-78},{"i":361,"r":-78},{"i":364,"r":-53},{"i":366,"r":-69},{"i":367,"r":-49},{"i":369,"r":-14},{"i":370,"r":-11},{"i":372,"r":-43},{"i":374,"r":-39},{"i":375,"r":-14},{"i":376,"r":-18},{"i":377,"r":-80},{"i":378,"r":-88},{"i":380,"r":-89},{"i":381,"r":-96},{"i":382,"r":-86},{"i":384,"r":-89},{"i":385,"r":-88},{"i":386,"r":-73},{"i":388,"r":-85},{"i":390,"r":-96},{"i":392,"r":-77},{"i":393,"r":-86},{"i":394,"r":-36},{"i":395,"r":-24},{"i":396,"r":-2},{"i":397,"r":-1},{"i":399,"r":-21},{"i":400,"r":-18},{"i":401,"r":-34},{"i":403,"r":-39},{"i":405,"r":-30},{"i":406,"r":-8},{"i":407,"r":-1},{"i":410,"r":-1},{"i":411,"r":-9},{"i":413,"r":-13},{"i":415,"r":-5},{"i":416,"r":-10},{"i":419,"r":-3}
],
"lines":[
{"kind":"orange","i":-1.03,"p":1962.7,"i2":451.66,"p2":2106.3},
{"kind":"orange","i":225,"p":2149,"i2":280.2,"p2":2166.7},
{"kind":"orange","i":225,"p":2149,"i2":393,"p2":1973.1},
{"kind":"orange","i":393,"p":1973.1,"i2":451.66,"p2":1991.7},
{"kind":"purple","i":230.9,"p":2090.5,"i2":428.9,"p2":1973.7},
{"kind":"purple","i":264,"p":2010,"i2":421,"p2":1953.8},
{"kind":"pivot thin","i":340.1,"p":2104.04,"i2":451.66,"p2":2104.04},
{"kind":"pivot mid","i":340.1,"p":2049.39,"i2":451.66,"p2":2049.39},
{"kind":"pivot low","i":340.1,"p":1949.79,"i2":451.66,"p2":1949.79},
{"kind":"choch","i":264,"p":2010,"i2":331.7,"p2":2010},
{"kind":"bos","i":158,"p":2052,"i2":218.5,"p2":2052},
{"kind":"eqh","i":183.2,"p":2047,"i2":186.7,"p2":2047},
{"kind":"lh","i":249.1,"p":2041.4,"i2":451.66,"p2":2041.4},
{"kind":"eql","i":317.6,"p":2026.7,"i2":326,"p2":2026.7},
{"kind":"strong","i":418,"p":2040.5,"i2":437.8,"p2":2040.5},
{"kind":"weak","i":393,"p":1973.1,"i2":438.9,"p2":1973.1},
{"kind":"zone","i":394.5,"p":1978.7,"i2":451.66,"p2":1978.7},
{"kind":"bos red","i":381,"p":1977.3,"i2":392.4,"p2":1977.3},
{"kind":"bos teal","i":400,"p":1986.8,"i2":404.2,"p2":1986.8},
{"kind":"frame","i":-1.03,"p":1942.3,"i2":468.2,"p2":1942.3}
],
"boxes":[
{"kind":"zone","i":394.5,"i2":451.66,"p":1973.2,"p2":1978.7},
{"kind":"zone","i":406.6,"i2":451.66,"p":1978.7,"p2":1983}
],
"notes":[
{"kind":"teal","t":"BOS","i":187.7,"p":2056.7},
{"kind":"teal","t":"HL","i":264,"p":2005.2},
{"kind":"teal","t":"EQL","i":320.8,"p":2023},
{"kind":"teal small","t":"Weak Low","i":439,"p":1969.3},
{"kind":"teal small","t":"BOS","i":403,"p":1990.7},
{"kind":"red","t":"EQH","i":184.9,"p":2050.8},
{"kind":"red","t":"LH","i":308,"p":2044.5},
{"kind":"red","t":"CHoCH","i":297.8,"p":2005.2},
{"kind":"red small","t":"Strong High","i":438.8,"p":2044},
{"kind":"red small","t":"BOS","i":386.9,"p":1973.7},
{"kind":"pivot","t":"R1 (2,104.04)","i":335.7,"p":2104.04},
{"kind":"pivot","t":"P (2,049.39)","i":335.7,"p":2049.39},
{"kind":"pivot","t":"S1 (1,949.79)","i":335.7,"p":1949.79},
{"kind":"big","t":"uml","i":273.1,"p":2156.9},
{"kind":"big","t":"ml","i":388,"p":2088.7},
{"kind":"big","t":"lml","i":441.5,"p":1994},
{"kind":"head","t":"Learn-2-Trade published on TradingView.com, Dec 14, 2023 11:17 UTC+2","i":-0.6,"p":2170.7},
{"kind":"head","t":"Gold Spot / U.S. Dollar, 1h, OANDA\u00a0\u00a0O2036.565\u00a0\u00a0H2038.825\u00a0\u00a0L2035.990\u00a0\u00a0C2038.825\u00a0\u00a0+2.260 (+0.11%)","i":1.5,"p":2161.9},
{"kind":"brand","t":"TradingView","i":4.9,"p":1910.3},
{"kind":"mark","t":"Learn","i":217.9,"p":2049},
{"kind":"mark","t":"Trade","i":241,"p":2049},
{"kind":"price","t":"2038.825","i":453.1,"p":2038.4},
{"kind":"price","t":"42:59","i":453.1,"p":2034.1},
{"kind":"price","t":"USD","i":454.3,"p":2161.3},
{"kind":"symbol","t":"XAUUSD","i":444.4,"p":2038.4},
{"kind":"last","t":"2041.300","i":459.2,"p":2043.6},
{"kind":"two","t":"2","i":236.8,"p":2049.2}
],
"rects":[
{"kind":"frame","i":-1.29,"i2":468.2,"p":2166.68,"p2":1915.8},
{"kind":"button","i":452.7,"i2":467.2,"p":2165.2,"p2":2157.1},
{"kind":"last","i":451.66,"i2":466.9,"p":2046.3,"p2":2041.2},
{"kind":"two","i":234.5,"i2":239.2,"p":2052.4,"p2":2046.3}
],
"band":[{"i":-1.03,"i2":451.66,"r":-20,"r2":-80}],
"levels":[
{"kind":"dash","i":-1.03,"i2":451.66,"r":-20},
{"kind":"dash","i":-1.03,"i2":451.66,"r":-80},
{"kind":"dot","i":-1.03,"i2":451.66,"r":-50}
]
},
"encoding":{
"x":{"field":"i","type":"quantitative","scale":{"domain":[-1.03,451.66],"nice":false,"zero":false},
"axis":{"title":null,"grid":false,"domain":false,"ticks":false,"labelPadding":4,"labelFontSize":12,"labelColor":"#131722","labelFlush":false,"labelBound":false,"labelOverlap":false,
"values":[0,23,46,69,110,133,156,179,202,225,248,271,294,317,340,363,386,409,432],
"labelExpr":"({'0':'20','23':'21','46':'22','69':'23','110':'27','133':'28','156':'29','179':'30','202':'Dec','225':'4','248':'5','271':'6','294':'7','317':'8','340':'11','363':'12','386':'13','409':'14','432':'15'})[datum.value]"}}
},
"layer":[
{"encoding":{"y":{"field":"p","type":"quantitative","scale":{"domain":[1942.3,2166.68],"range":[736,0],"nice":false,"zero":false},
"axis":{"orient":"right","title":null,"grid":false,"domain":false,"ticks":false,"labelPadding":1,"labelFontSize":11.5,"labelColor":"#131722","format":".3f",
"values":[1950,1960,1970,1980,1990,2000,2010,2020,2030,2050,2060,2070,2080,2090,2100,2110,2120,2130,2140,2150]}}},
"layer":[
{"data":{"name":"rects"},"transform":[{"filter":"datum.kind=='frame'"}],"mark":{"type":"rect","filled":false,"stroke":"#eff1f6","strokeWidth":2},"encoding":{"x2":{"field":"i2"},"y2":{"field":"p2"}}},
{"data":{"name":"boxes"},"mark":{"type":"rect","color":"#2196f3","opacity":0.12},"encoding":{"x2":{"field":"i2"},"y2":{"field":"p2"}}},
{"data":{"name":"candles"},"mark":{"type":"rule","color":"#000000","strokeWidth":1},"encoding":{"y":{"field":"l","type":"quantitative","scale":{"domain":[1942.3,2166.68],"range":[736,0],"nice":false,"zero":false},"axis":{"orient":"right","title":null,"grid":false,"domain":false,"ticks":false,"labelPadding":1,"labelFontSize":11.5,"labelColor":"#131722","format":".3f","values":[1950,1960,1970,1980,1990,2000,2010,2020,2030,2050,2060,2070,2080,2090,2100,2110,2120,2130,2140,2150]}},"y2":{"field":"h"}}},
{"data":{"name":"candles"},"mark":{"type":"bar","width":2.4,"stroke":"#000000","strokeWidth":0.9},"encoding":{"y":{"field":"o","type":"quantitative","scale":{"domain":[1942.3,2166.68],"range":[736,0],"nice":false,"zero":false},"axis":{"orient":"right","title":null,"grid":false,"domain":false,"ticks":false,"labelPadding":1,"labelFontSize":11.5,"labelColor":"#131722","format":".3f","values":[1950,1960,1970,1980,1990,2000,2010,2020,2030,2050,2060,2070,2080,2090,2100,2110,2120,2130,2140,2150]}},"y2":{"field":"c"},"fill":{"condition":{"test":"datum.c>=datum.o","value":"#ffffff"},"value":"#000000"}}},
{"data":{"name":"lines"},"mark":{"type":"rule"},"encoding":{"x2":{"field":"i2"},"y2":{"field":"p2"},
"color":{"field":"kind","type":"nominal","legend":null,"scale":{"domain":["orange","purple","pivot thin","pivot mid","pivot low","choch","bos","eqh","lh","eql","strong","weak","zone","bos red","bos teal","frame"],"range":["#ff9800","#9c27b0","#ffb74d","#ffcc80","#ff9800","#f7525f","#4db6ac","#f7a1a8","#f23645","#26a69a","#f23645","#66b5ad","#b2dfdb","#f23645","#4db6ac","#e6e8ee"]}},
"strokeWidth":{"field":"kind","type":"nominal","legend":null,"scale":{"type":"ordinal","domain":["orange","purple","pivot thin","pivot mid","pivot low","choch","bos","eqh","lh","eql","strong","weak","zone","bos red","bos teal","frame"],"range":[2,2,1,2,1,1,1,1,2,1,1,2,1,1,1,1.5]}},
"strokeDash":{"field":"kind","type":"nominal","legend":null,"scale":{"domain":["orange","purple","pivot thin","pivot mid","pivot low","choch","bos","eqh","lh","eql","strong","weak","zone","bos red","bos teal","frame"],"range":[[1,0],[1,0],[1,0],[1,0],[1,0],[1,0],[1,0],[2,2],[2,4],[2,2],[1,0],[1,0],[1,0],[4,3],[4,5],[1,0]]}}}},
{"data":{"name":"rects"},"transform":[{"filter":"datum.kind=='button'"}],"mark":{"type":"rect","fill":"#ffffff","stroke":"#e0e3eb","strokeWidth":1,"cornerRadius":4},"encoding":{"x2":{"field":"i2"},"y2":{"field":"p2"}}},
{"data":{"name":"rects"},"transform":[{"filter":"datum.kind=='last'"}],"mark":{"type":"rect","color":"#f23645"},"encoding":{"x2":{"field":"i2"},"y2":{"field":"p2"}}},
{"data":{"name":"rects"},"transform":[{"filter":"datum.kind=='two'"}],"mark":{"type":"rect","color":"#000000","cornerRadius":2},"encoding":{"x2":{"field":"i2"},"y2":{"field":"p2"}}},
{"data":{"name":"notes"},"transform":[{"filter":"datum.kind=='teal'"}],"mark":{"type":"text","fontSize":9,"color":"#22ab94","baseline":"middle"},"encoding":{"text":{"field":"t"}}},
{"data":{"name":"notes"},"transform":[{"filter":"datum.kind=='teal small'"}],"mark":{"type":"text","fontSize":7.5,"color":"#22ab94","baseline":"middle"},"encoding":{"text":{"field":"t"}}},
{"data":{"name":"notes"},"transform":[{"filter":"datum.kind=='red'"}],"mark":{"type":"text","fontSize":9,"color":"#f23645","baseline":"middle"},"encoding":{"text":{"field":"t"}}},
{"data":{"name":"notes"},"transform":[{"filter":"datum.kind=='red small'"}],"mark":{"type":"text","fontSize":7.5,"color":"#f23645","baseline":"middle"},"encoding":{"text":{"field":"t"}}},
{"data":{"name":"notes"},"transform":[{"filter":"datum.kind=='pivot'"}],"mark":{"type":"text","fontSize":12,"color":"#ff9800","align":"right","baseline":"middle"},"encoding":{"text":{"field":"t"}}},
{"data":{"name":"notes"},"transform":[{"filter":"datum.kind=='big'"}],"mark":{"type":"text","fontSize":26,"font":"Open Sans","color":"#000000","baseline":"middle"},"encoding":{"text":{"field":"t"}}},
{"data":{"name":"notes"},"transform":[{"filter":"datum.kind=='head'"}],"mark":{"type":"text","fontSize":12,"color":"#131722","align":"left","baseline":"middle"},"encoding":{"text":{"field":"t"}}},
{"data":{"name":"notes"},"transform":[{"filter":"datum.kind=='brand'"}],"mark":{"type":"text","fontSize":14,"color":"#131722","align":"left","baseline":"middle"},"encoding":{"text":{"field":"t"}}},
{"data":{"name":"notes"},"transform":[{"filter":"datum.kind=='mark'"}],"mark":{"type":"text","fontSize":22,"font":"Liberation Sans","fontWeight":"bold","color":"#000000","align":"left","baseline":"middle"},"encoding":{"text":{"field":"t"}}},
{"data":{"name":"notes"},"transform":[{"filter":"datum.kind=='two'"}],"mark":{"type":"text","fontSize":18,"font":"Liberation Sans","fontWeight":"bold","color":"#ffffff","baseline":"middle"},"encoding":{"text":{"field":"t"}}},
{"data":{"name":"notes"},"transform":[{"filter":"datum.kind=='price'"}],"mark":{"type":"text","fontSize":11.5,"color":"#131722","align":"left","baseline":"middle"},"encoding":{"text":{"field":"t"}}},
{"data":{"name":"notes"},"transform":[{"filter":"datum.kind=='symbol'"}],"mark":{"type":"text","fontSize":12,"color":"#131722","baseline":"middle"},"encoding":{"text":{"field":"t"}}},
{"data":{"name":"notes"},"transform":[{"filter":"datum.kind=='last'"}],"mark":{"type":"text","fontSize":12,"fontWeight":"bold","color":"#ffffff","baseline":"middle"},"encoding":{"text":{"field":"t"}}},
{"data":{"values":[{"i":258.8,"p":2050.3}]},"mark":{"type":"point","filled":true,"opacity":1,"color":"#000000","size":340,"shape":"M-1,0.5 L0.25,-0.2 L0,-0.6 L1,-0.6 L0.65,0.25 L0.45,-0.05 L-0.85,0.65 Z"}},
{"data":{"values":[{"i":1.4,"p":1910.3}]},"mark":{"type":"point","filled":true,"opacity":1,"color":"#000000","size":380,"shape":"M-1,-0.55 H-0.1 V0.6 H-0.5 V-0.1 H-1 Z M0.35,-0.55 H1 L0.45,0.6 H-0.05 Z"}},
{"data":{"values":[{"i":419.2,"p":1946.2}]},"mark":{"type":"point","filled":false,"opacity":1,"color":"#9c27b0","strokeWidth":1.5,"shape":"circle","size":340}},
{"data":{"values":[{"i":419.2,"p":1946.2}]},"mark":{"type":"point","filled":true,"opacity":1,"color":"#9c27b0","size":130,"shape":"M0.25,-1 L-0.55,0.15 H-0.05 L-0.25,1 L0.55,-0.2 H0.05 Z"}},
{"data":{"values":[{"i":420.9,"p":1948.4}]},"mark":{"type":"point","filled":true,"opacity":1,"color":"#f23645","shape":"circle","size":28}}
]},
{"encoding":{"y":{"field":"r","type":"quantitative","scale":{"domain":[-100,0],"range":[792.9,739.6],"nice":false,"zero":false},
"axis":{"orient":"right","title":null,"grid":false,"domain":false,"ticks":false,"labelPadding":1,"labelFontSize":11.5,"labelColor":"#131722","format":".2f","values":[0,-100]}}},
"layer":[
{"data":{"name":"band"},"mark":{"type":"rect","color":"#7e57c2","opacity":0.1},"encoding":{"x2":{"field":"i2"},"y2":{"field":"r2"}}},
{"data":{"name":"levels"},"transform":[{"filter":"datum.kind=='dash'"}],"mark":{"type":"rule","color":"#787b86","strokeWidth":1,"strokeDash":[5,4]},"encoding":{"x2":{"field":"i2"}}},
{"data":{"name":"levels"},"transform":[{"filter":"datum.kind=='dot'"}],"mark":{"type":"rule","color":"#787b86","strokeWidth":1,"strokeDash":[1,2]},"encoding":{"x2":{"field":"i2"}}},
{"data":{"name":"rsi"},"mark":{"type":"line","color":"#7e57c2","strokeWidth":1}}
]}
],
"resolve":{"scale":{"y":"independent"},"axis":{"y":"independent"}}
}
